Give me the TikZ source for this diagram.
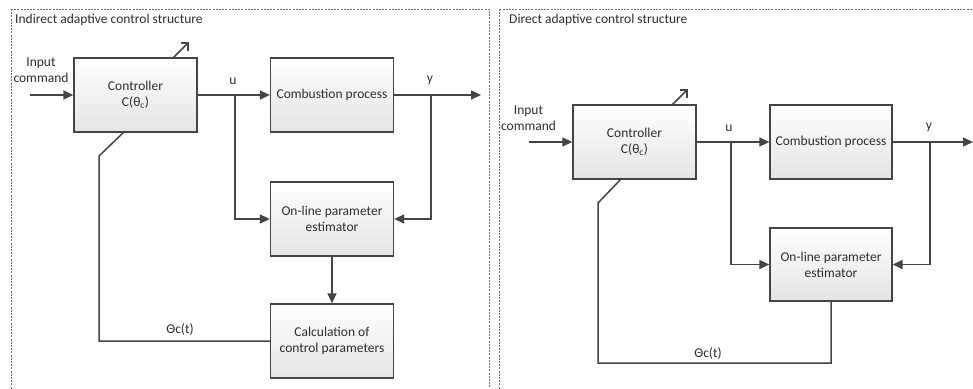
\documentclass[tikz,border=0pt]{standalone}
\usepackage{fontspec}
\setmainfont{Carlito}
\usetikzlibrary{arrows.meta}
\definecolor{linec}{HTML}{454545}
\definecolor{textc}{HTML}{2E2E2E}
\definecolor{framec}{HTML}{707070}
\definecolor{boxbot}{HTML}{E4E4E4}
\tikzset{
  ln/.style={draw=linec, line width=1.5pt},
  arr/.style={ln, -{Triangle[length=10pt,width=9pt]}},
  blk/.style={draw=linec, line width=1.3pt, top color=white, bottom color=boxbot,
    minimum width=123pt, minimum height=74pt, align=center, text=textc,
    font=\fontsize{13.5}{16}\selectfont, inner sep=2pt},
  lbl/.style={text=textc, font=\fontsize{13.5}{16}\selectfont, inner sep=0pt, align=center},
  frame/.style={draw=framec, line width=1pt, dash pattern=on 2pt off 1.2pt},
}
\begin{document}
\begin{tikzpicture}[x=1pt,y=-1pt]
\useasboundingbox (0,0) rectangle (973,388);
\clip (0,0) rectangle (973,388);
\fill[white] (0,0) rectangle (973,388);
% frames
\draw[frame] (11,9) rectangle (489,396);
\draw[frame] (499,9) rectangle (990,396);
\node[lbl, anchor=west] (t1) at (15,20) {Indirect adaptive control structure};
\node[lbl, anchor=west] (t2) at (509,20) {Direct adaptive control structure};

% ---------- left panel ----------
\node[blk] (c1) at (135.5,95) {Controller\\C(θ\textsubscript{c})};
\node[blk] (p1) at (332,95) {Combustion process};
\node[blk] (e1) at (332,219) {On-line parameter\\estimator};
\node[blk] (k1) at (332,341) {Calculation of\\control parameters};
\node[lbl] (in1t) at (41,70) {Input\\command};
\coordinate (in1) at (30,95);
\coordinate (u1) at (235,95);
\coordinate (y1) at (431,95);
\coordinate (o1) at (481,95);
\coordinate (f1) at (99,156);
\coordinate (g1) at (124,132);
\coordinate (a1s) at (173,58);
\coordinate (a1t) at (188,43);
\draw[arr] (in1) -- (c1.west);
\draw[arr] (c1.east) -- (p1.west);
\draw[arr] (p1.east) -- (o1);
\draw[arr] (u1) |- (e1.west);
\draw[arr] (y1) |- (e1.east);
\draw[arr] (e1.south) -- (k1.north);
\draw[ln] (k1.west) -| (f1) -- (g1);
\draw[ln] (a1s) -- (a1t);
\draw[ln] ([xshift=-7pt]a1t) -- (a1t) -- ([yshift=-8pt]a1t);
\node[lbl] (ul1) at (233,81) {u};
\node[lbl] (yl1) at (430,80) {y};
\node[lbl] (th1) at (180,329) {Θc(t)};

% ---------- right panel ----------
\node[blk] (c2) at (634.5,142) {Controller\\C(θ\textsubscript{c})};
\node[blk, minimum width=122pt] (p2) at (831,142) {Combustion process};
\node[blk, minimum width=122pt, minimum height=73pt] (e2) at (831,264.5) {On-line parameter\\estimator};
\node[lbl] (in2t) at (528.5,118) {Input\\command};
\coordinate (in2) at (529,142);
\coordinate (u2) at (731,142);
\coordinate (y2) at (930,142);
\coordinate (o2) at (973,142);
\coordinate (d2) at (831,363);
\coordinate (f2) at (598,203);
\coordinate (g2) at (621,179);
\coordinate (a2s) at (672,105);
\coordinate (a2t) at (687,90);
\draw[arr] (in2) -- (c2.west);
\draw[arr] (c2.east) -- (p2.west);
\draw[arr] (p2.east) -- (o2);
\draw[arr] (u2) |- (e2.west);
\draw[arr] (y2) |- (e2.east);
\draw[ln] (e2.south) -- (d2) -| (f2) -- (g2);
\draw[ln] (a2s) -- (a2t);
\draw[ln] ([xshift=-7pt]a2t) -- (a2t) -- ([yshift=-8pt]a2t);
\node[lbl] (ul2) at (729,128) {u};
\node[lbl] (yl2) at (929,127) {y};
\node[lbl] (th2) at (708,353) {Θc(t)};
\end{tikzpicture}
\end{document}
